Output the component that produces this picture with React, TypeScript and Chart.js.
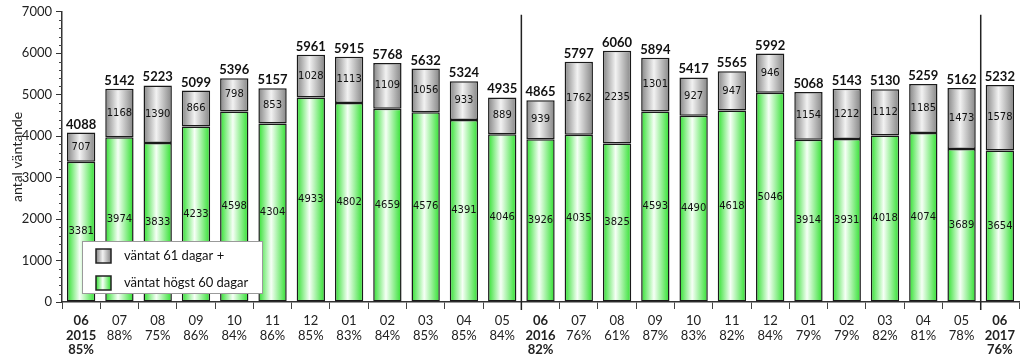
import React, { useEffect, useRef } from "react";
import { Chart, registerables } from "chart.js";

Chart.register(...registerables);

const months = ["06","07","08","09","10","11","12","01","02","03","04","05","06","07","08","09","10","11","12","01","02","03","04","05","06"];
const years = ["2015","","","","","","","","","","","","2016","","","","","","","","","","","","2017"];
const percents = ["85%","88%","75%","86%","84%","86%","85%","83%","84%","85%","85%","84%","82%","76%","61%","87%","83%","82%","84%","79%","79%","82%","81%","78%","76%"];
const upTo60 = [3381,3974,3833,4233,4598,4304,4933,4802,4659,4576,4391,4046,3926,4035,3825,4593,4490,4618,5046,3914,3931,4018,4074,3689,3654];
const over61 = [707,1168,1390,866,798,853,1028,1113,1109,1056,933,889,939,1762,2235,1301,927,947,946,1154,1212,1112,1185,1473,1578];
const totals = [4088,5142,5223,5099,5396,5157,5961,5915,5768,5632,5324,4935,4865,5797,6060,5894,5417,5565,5992,5068,5143,5130,5259,5162,5232];
const yTicks = [0,1000,2000,3000,4000,5000,6000,7000];
const legendLabels = ["väntat 61 dagar +", "väntat högst 60 dagar"];
const yTitle = "antal väntande";

const BAR_PCT = 0.74;
const GREEN_STOPS: [number, string][] = [[0, "#2fe02f"], [0.45, "#f6fff6"], [1, "#2fe02f"]];
const GRAY_STOPS: [number, string][] = [[0, "#858585"], [0.45, "#f2f2f2"], [1, "#858585"]];

function makeGrad(c: CanvasRenderingContext2D, x0: number, x1: number, stops: [number, string][]) {
  const g = c.createLinearGradient(x0, 0, x1, 0);
  stops.forEach(([o, col]) => g.addColorStop(o, col));
  return g;
}

function barFill(stops: [number, string][], fallback: string) {
  return (ctx: any) => {
    const chart = ctx.chart;
    const xs = chart.scales && chart.scales.x;
    if (!xs || ctx.dataIndex === undefined || !xs.width) return fallback;
    const x = xs.getPixelForValue(ctx.dataIndex);
    const w = (xs.width / months.length) * BAR_PCT;
    return makeGrad(chart.ctx, x - w / 2, x + w / 2, stops);
  };
}

const labelsPlugin = {
  id: "customDraw",
  afterDatasetsDraw(chart: any) {
    const c: CanvasRenderingContext2D = chart.ctx;
    const m0 = chart.getDatasetMeta(0);
    const m1 = chart.getDatasetMeta(1);
    c.save();
    c.textAlign = "center";
    c.textBaseline = "middle";
    c.fillStyle = "#111";
    c.font = "10px 'DejaVu Sans'";
    m0.data.forEach((el: any, i: number) => {
      c.fillText(String(upTo60[i]), el.x, (el.y + el.base) / 2);
    });
    m1.data.forEach((el: any, i: number) => {
      c.fillText(String(over61[i]), el.x, (el.y + el.base) / 2);
    });
    c.font = "bold 13px Lato";
    c.textBaseline = "alphabetic";
    m1.data.forEach((el: any, i: number) => {
      c.fillText(String(totals[i]), el.x, el.y - 4);
    });
    c.restore();
  },
  afterDraw(chart: any) {
    const c: CanvasRenderingContext2D = chart.ctx;
    const xs = chart.scales.x;
    const ys = chart.scales.y;
    const area = chart.chartArea;
    c.save();
    c.strokeStyle = "#444";
    c.lineWidth = 1;
    for (let v = 200; v < 7000; v += 200) {
      if (v % 1000 === 0) continue;
      const y = Math.round(ys.getPixelForValue(v)) + 0.5;
      c.beginPath();
      c.moveTo(area.left - 3, y);
      c.lineTo(area.left, y);
      c.stroke();
    }
    c.strokeStyle = "#222";
    c.lineWidth = 1.5;
    years.forEach((yr, i) => {
      if (!yr || i === 0) return;
      const x = (xs.getPixelForValue(i - 1) + xs.getPixelForValue(i)) / 2;
      c.beginPath();
      c.moveTo(x, area.top + 3);
      c.lineTo(x, area.bottom + 8);
      c.stroke();
    });
    const lx = 82, ly = 241, lw = 180, lh = 52;
    c.fillStyle = "#ffffff";
    c.fillRect(lx, ly, lw, lh);
    c.strokeStyle = "#9a9a9a";
    c.lineWidth = 1;
    c.strokeRect(lx + 0.5, ly + 0.5, lw, lh);
    const sw = 15, sh = 14, sx = 96;
    const rows = [
      { y: 249, stops: GRAY_STOPS, text: legendLabels[0] },
      { y: 276, stops: GREEN_STOPS, text: legendLabels[1] },
    ];
    c.font = "13px Lato";
    c.textAlign = "left";
    c.textBaseline = "middle";
    rows.forEach((r) => {
      c.fillStyle = makeGrad(c, sx, sx + sw, r.stops);
      c.fillRect(sx, r.y, sw, sh);
      c.strokeStyle = "#222";
      c.lineWidth = 1.5;
      c.strokeRect(sx, r.y, sw, sh);
      c.fillStyle = "#111";
      c.fillText(r.text, 124, r.y + sh / 2);
    });
    c.restore();
  },
};

export default function App() {
  const ref = useRef<HTMLCanvasElement | null>(null);
  useEffect(() => {
    if (!ref.current) return;
    const labels = months.map((m, i) => (years[i] ? [m, years[i], percents[i]] : [m, percents[i]]));
    const chart = new Chart(ref.current, {
      type: "bar",
      data: {
        labels,
        datasets: [
          {
            label: legendLabels[1],
            data: upTo60,
            backgroundColor: barFill(GREEN_STOPS, "#5ee85e"),
            borderColor: "#1a1a1a",
            borderWidth: 1.5,
            borderSkipped: false,
            barPercentage: BAR_PCT,
            categoryPercentage: 1,
          },
          {
            label: legendLabels[0],
            data: over61,
            backgroundColor: barFill(GRAY_STOPS, "#bbbbbb"),
            borderColor: "#1a1a1a",
            borderWidth: 1.5,
            borderSkipped: false,
            barPercentage: BAR_PCT,
            categoryPercentage: 1,
          },
        ],
      },
      options: {
        animation: false,
        responsive: true,
        maintainAspectRatio: false,
        layout: { padding: { top: 11, right: 5, left: 0, bottom: 0 } },
        plugins: { legend: { display: false }, tooltip: { enabled: false } },
        scales: {
          x: {
            stacked: true,
            offset: true,
            afterFit: (s: any) => { s.height = 55; },
            grid: { drawOnChartArea: false, drawTicks: true, tickLength: 7, color: "#444", offset: true },
            border: { color: "#333", width: 1.5 },
            ticks: {
              color: "#222",
              padding: 5,
              maxRotation: 0,
              autoSkip: false,
              font: (ctx: any) => ({ family: "Lato", size: 13, weight: years[ctx.index] ? "bold" : "normal", lineHeight: 1.1 }),
            },
          },
          y: {
            stacked: true,
            min: 0,
            max: 7000,
            afterFit: (s: any) => { s.width = 62; },
            afterBuildTicks: (s: any) => { s.ticks = yTicks.map((v) => ({ value: v })); },
            grid: { drawOnChartArea: false, drawTicks: true, tickLength: 6, color: "#333" },
            border: { color: "#333", width: 1.5 },
            ticks: { color: "#222", padding: 4, font: { family: "Lato", size: 13 }, callback: (v: any) => String(v) },
            title: { display: true, text: yTitle, color: "#222", font: { family: "Lato", size: 14 }, padding: { top: 9, bottom: 0 } },
          },
        },
      },
      plugins: [labelsPlugin],
    });
    return () => chart.destroy();
  }, []);
  return (
    <div style={{ position: "fixed", left: 0, top: 0, width: 1024, height: 357, background: "#fff" }}>
      <canvas ref={ref} />
    </div>
  );
}
